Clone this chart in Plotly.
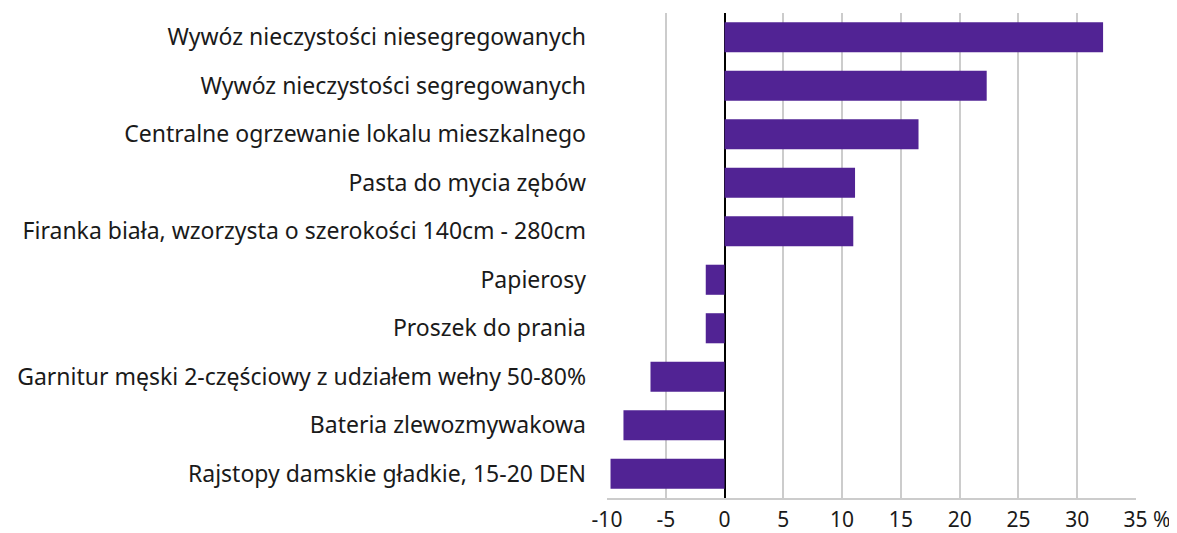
import plotly.graph_objects as go

categories = [
    "Wywóz nieczystości niesegregowanych",
    "Wywóz nieczystości segregowanych",
    "Centralne ogrzewanie lokalu mieszkalnego",
    "Pasta do mycia zębów",
    "Firanka biała, wzorzysta o szerokości 140cm - 280cm",
    "Papierosy",
    "Proszek do prania",
    "Garnitur męski 2-częściowy z udziałem wełny 50-80%",
    "Bateria zlewozmywakowa",
    "Rajstopy damskie gładkie, 15-20 DEN",
]
values = [32.2, 22.3, 16.5, 11.1, 10.95, -1.6, -1.6, -6.3, -8.6, -9.7]
tick_vals = [-10, -5, 0, 5, 10, 15, 20, 25, 30, 35]
# the leading non-breaking spaces keep "35" centred on its gridline
tick_text = ["-10", "-5", "0", "5", "10", "15", "20", "25", "30",
             "\u00a0\u00a0\u00a0\u00a035 %"]

FONT = "Noto Sans"

fig = go.Figure(go.Bar(
    x=values,
    y=categories,
    orientation="h",
    marker=dict(color="#512394", line=dict(width=0)),
    width=0.62,
))

# page body has an 8px margin, so the figure is 8px smaller and margins shifted
fig.update_layout(
    width=1169, height=525,
    margin=dict(l=599, r=41, t=5, b=35, autoexpand=False),
    plot_bgcolor="white", paper_bgcolor="white",
    font=dict(family=FONT, size=23, color="#1a1a1a"),
    showlegend=False,
    xaxis=dict(
        range=[-10, 35], tickvals=tick_vals, ticktext=tick_text,
        showgrid=True, gridcolor="#cccccc", gridwidth=2,
        zeroline=True, zerolinecolor="#000000", zerolinewidth=1.5,
        showline=True, linecolor="#cccccc", linewidth=2,
        ticks="", ticklabelstandoff=2, automargin=False,
        tickfont=dict(size=21),
    ),
    yaxis=dict(
        autorange="reversed", ticks="", showline=False, showgrid=False,
        ticklabelstandoff=20, automargin=False,
    ),
)

fig.write_html("out.html")
